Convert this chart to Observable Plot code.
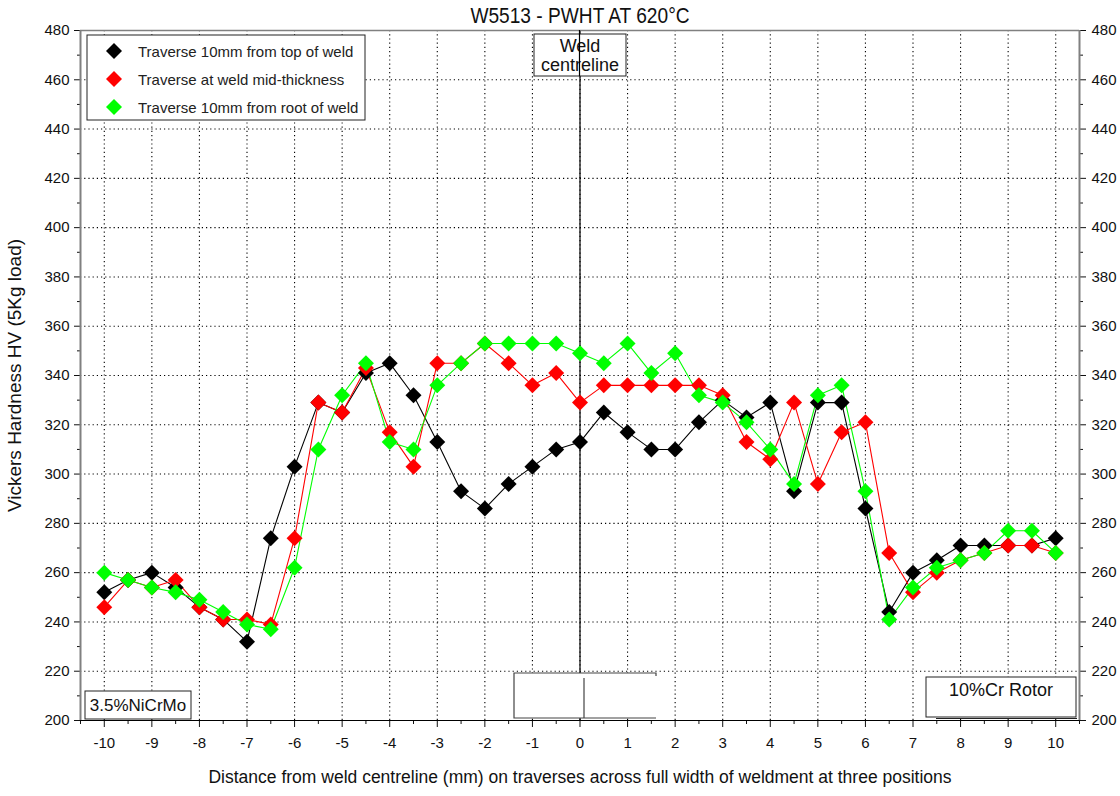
<!DOCTYPE html>
<html><head><meta charset="utf-8">
<script src="https://cdn.jsdelivr.net/npm/d3@7"></script>
<script src="https://cdn.jsdelivr.net/npm/@observablehq/plot@0.6"></script>
<style>
body{margin:0;background:#fff;}
#chart{position:relative;width:1120px;height:796px;}
</style>
</head><body><div id="chart"></div>
<script>
const titleText = "W5513 - PWHT AT 620°C";
const xLabel = "Distance from weld centreline (mm) on traverses across full width of weldment at three positions";
const yLabel = "Vickers Hardness HV (5Kg load)";

const positions = [-10,-9.5,-9,-8.5,-8,-7.5,-7,-6.5,-6,-5.5,-5,-4.5,-4,-3.5,-3,-2.5,-2,-1.5,-1,-0.5,0,0.5,1,1.5,2,2.5,3,3.5,4,4.5,5,5.5,6,6.5,7,7.5,8,8.5,9,9.5,10];

const seriesNames = ["Traverse 10mm from top of weld","Traverse at weld mid-thickness","Traverse 10mm from root of weld"];
const seriesColors = ["#000000","#ff0000","#00ff00"];

const topWeld = [252,257,260,254,246,241,232,274,303,329,325,341,345,332,313,293,286,296,303,310,313,325,317,310,310,321,330,323,329,293,329,329,286,244,260,265,271,271,271,271,274];
const midThickness = [246,257,254,257,246,241,241,239,274,329,325,343,317,303,345,345,353,345,336,341,329,336,336,336,336,336,332,313,306,329,296,317,321,268,252,260,265,268,271,271,268];
const rootWeld = [260,257,254,252,249,244,239,237,262,310,332,345,313,310,336,345,353,353,353,353,349,345,353,341,349,332,329,321,310,296,332,336,293,241,254,262,265,268,277,277,268];

const xTicks = [-10,-9,-8,-7,-6,-5,-4,-3,-2,-1,0,1,2,3,4,5,6,7,8,9,10];
const xMinor = [-10.5,-9.5,-8.5,-7.5,-6.5,-5.5,-4.5,-3.5,-2.5,-1.5,-0.5,0.5,1.5,2.5,3.5,4.5,5.5,6.5,7.5,8.5,9.5,10.5];
const yTicks = [200,220,240,260,280,300,320,340,360,380,400,420,440,460,480];
const yMinor = [210,230,250,270,290,310,330,350,370,390,410,430,450,470];

const note1 = "Weld";
const note2 = "centreline";
const leftNote = "3.5%NiCrMo";
const rightNote = "10%Cr Rotor";

const allSeries = [topWeld, midThickness, rootWeld];
const rows = [];
allSeries.forEach((vals, i) => vals.forEach((v, j) => rows.push({x: positions[j], y: v, series: seriesNames[i]})));

const FONT = "'Liberation Sans', Arial, sans-serif";
const dotted = {stroke:"#000", strokeOpacity:1, strokeWidth:1.1, strokeDasharray:"1.2,3"};

const plot = Plot.plot({
  width: 1120, height: 796,
  marginTop: 30, marginBottom: 76, marginLeft: 80, marginRight: 41,
  style: {fontFamily: FONT, fontSize: "15px", color: "#111", background: "#fff"},
  x: {domain: [-10.5, 10.5]},
  y: {domain: [200, 480]},
  color: {domain: seriesNames, range: seriesColors},
  marks: [
    Plot.gridX(xTicks, dotted),
    Plot.gridY(yTicks.filter(v => v > 200 && v < 480), dotted),
    Plot.ruleX([0], {stroke:"#000", strokeWidth:1.2}),
    Plot.axisX(xTicks, {tickSize:7, tickPadding:10, label:null, tickFormat: d => String(d), fontSize:15}),
    Plot.axisX(xMinor, {tickSize:4, text:null, label:null}),
    Plot.axisY(yTicks, {anchor:"left", tickSize:6, tickPadding:5, label:null, tickFormat: d => String(d), fontSize:15}),
    Plot.axisY(yMinor, {anchor:"left", tickSize:3, text:null, label:null}),
    Plot.axisY(yTicks, {anchor:"right", tickSize:6, tickPadding:6, label:null, tickFormat: d => String(d), fontSize:15}),
    Plot.axisY(yMinor, {anchor:"right", tickSize:3, text:null, label:null}),
    Plot.ruleX([-10.5, 10.5], {stroke:"#808080", strokeWidth:2}),
    Plot.ruleY([480], {stroke:"#808080", strokeWidth:1.5}),
    Plot.ruleY([200], {stroke:"#000", strokeWidth:1.2}),
    Plot.line(rows, {x:"x", y:"y", z:"series", stroke:"series", strokeWidth:1.1}),
    Plot.dot(rows, {x:"x", y:"y", symbol:"diamond2", fill:"series", stroke:null, r:7.2}),
    Plot.text([xLabel], {frameAnchor:"bottom", dy:62, fontSize:17.5, fill:"#111"}),
    Plot.text([yLabel], {frameAnchor:"left", dx:-66, rotate:-90, textAnchor:"middle", fontSize:19, fill:"#111"})
  ]
});

document.getElementById("chart").appendChild(plot);

// annotation overlays
const svg = d3.select(plot);
const g = svg.append("g").attr("font-family", FONT).attr("text-anchor", "start");

// Title (slightly condensed)
g.append("text").attr("transform","translate(580,15) scale(0.87,1)").attr("text-anchor","middle").attr("dominant-baseline","central").attr("font-size",22).attr("fill","#111").text(titleText);

// Weld centreline label box
g.append("rect").attr("x",534).attr("y",34).attr("width",92).attr("height",42).attr("fill","#fff").attr("stroke","#222").attr("stroke-width",1);
g.append("text").attr("x",580).attr("y",46).attr("text-anchor","middle").attr("dominant-baseline","central").attr("font-size",18).attr("fill","#111").text(note1);
g.append("text").attr("x",580).attr("y",65).attr("text-anchor","middle").attr("dominant-baseline","central").attr("font-size",18).attr("fill","#111").text(note2);
const x0 = plot.scale("x").apply(0);
g.append("line").attr("x1",x0).attr("x2",x0).attr("y1",30).attr("y2",76).attr("stroke","#000").attr("stroke-width",1.2);

// Legend
g.append("rect").attr("x",87).attr("y",35).attr("width",278).attr("height",85).attr("fill","#fff").attr("stroke","#222").attr("stroke-width",1);
seriesNames.forEach((name, i) => {
  const cy = 51 + i * 28;
  const r = 8;
  g.append("path").attr("d", `M114,${cy-r}L${114+r},${cy}L114,${cy+r}L${114-r},${cy}Z`).attr("fill", seriesColors[i]);
  g.append("text").attr("x",138).attr("y",cy).attr("text-anchor","start").attr("dominant-baseline","central").attr("font-size",15).attr("fill","#222").text(name);
});

// empty box near bottom centre
g.append("rect").attr("x",514).attr("y",673).attr("width",142).attr("height",45).attr("fill","#fff");
g.append("path").attr("d","M656,676L656,673L514,673L514,718L656,718M584,678L584,718").attr("fill","none").attr("stroke","#444").attr("stroke-width",1.2);

// left material box
g.append("rect").attr("x",85).attr("y",691).attr("width",106).attr("height",28).attr("fill","#fff").attr("stroke","#222").attr("stroke-width",1);
g.append("text").attr("x",138).attr("y",705).attr("text-anchor","middle").attr("dominant-baseline","central").attr("font-size",17).attr("fill","#111").text(leftNote);

// right material box
g.append("rect").attr("x",926).attr("y",677).attr("width",150).attr("height",40).attr("fill","#fff").attr("stroke","#222").attr("stroke-width",1);
g.append("line").attr("x1",936).attr("x2",1077).attr("y1",718.5).attr("y2",718.5).attr("stroke","#222").attr("stroke-width",1);
g.append("text").attr("x",1001).attr("y",690).attr("text-anchor","middle").attr("dominant-baseline","central").attr("font-size",18).attr("fill","#111").text(rightNote);
</script>
</body></html>
